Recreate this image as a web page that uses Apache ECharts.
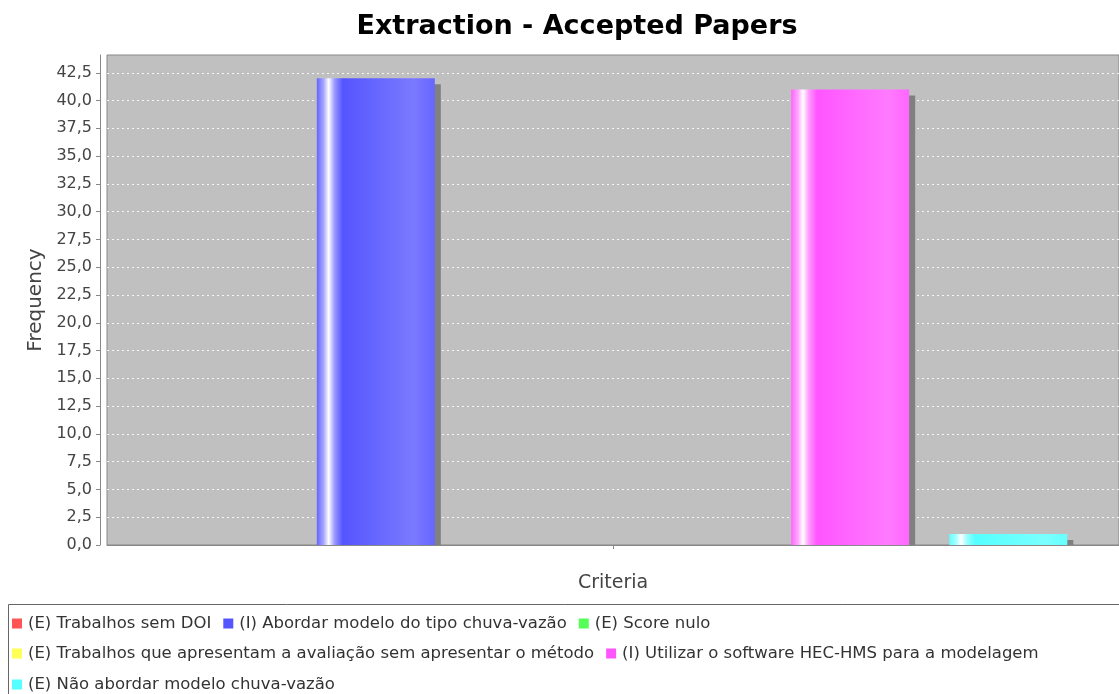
<!DOCTYPE html>
<html>
<head>
<meta charset="utf-8">
<script src="https://cdn.jsdelivr.net/npm/echarts@6/dist/echarts.min.js"></script>
<style>
  html, body { margin: 0; padding: 0; background: #ffffff; }
  #chart { width: 1119px; height: 694px; }
</style>
</head>
<body>
<div id="chart"></div>
<script>
// Chart data
const chartTitle = 'Extraction - Accepted Papers';
const categories = [''];
const seriesNames = [
  '(E) Trabalhos sem DOI',
  '(I) Abordar modelo do tipo chuva-vazão',
  '(E) Score nulo',
  '(E) Trabalhos que apresentam a avaliação sem apresentar o método',
  '(I) Utilizar o software HEC-HMS para a modelagem',
  '(E) Não abordar modelo chuva-vazão'
];
const seriesValues = [0, 42, 0, 0, 41, 1];
const seriesColors = ['#FF5555', '#5555FF', '#55FF55', '#FFFF55', '#FF55FF', '#55FFFF'];
const yTicks = [0, 2.5, 5, 7.5, 10, 12.5, 15, 17.5, 20, 22.5, 25, 27.5, 30, 32.5, 35, 37.5, 40, 42.5];
const yMax = 44.1;
const legendRows = [[0, 1, 2], [3, 4], [5]];

const FONT = 'DejaVu Sans';

// Mix a hex colour with white by t (0..1)
function tint(hex, t) {
  const n = parseInt(hex.slice(1), 16);
  const r = (n >> 16) & 255, g = (n >> 8) & 255, b = n & 255;
  const m = c => Math.round(c + (255 - c) * t);
  return 'rgb(' + m(r) + ',' + m(g) + ',' + m(b) + ')';
}

// Horizontal gloss gradient across each bar
function barGradient(hex) {
  return new echarts.graphic.LinearGradient(0, 0, 1, 0, [
    { offset: 0.00, color: tint(hex, 0.08) },
    { offset: 0.06, color: tint(hex, 0.5) },
    { offset: 0.10, color: '#ffffff' },
    { offset: 0.15, color: tint(hex, 0.4) },
    { offset: 0.22, color: hex },
    { offset: 0.82, color: tint(hex, 0.22) },
    { offset: 1.00, color: tint(hex, 0.1) }
  ]);
}

const series = seriesNames.map((name, i) => ({
  name: name,
  type: 'bar',
  data: [seriesValues[i]],
  barWidth: 118,
  barGap: '34%',
  itemStyle: {
    color: barGradient(seriesColors[i]),
    shadowColor: '#808080',
    shadowOffsetX: 6,
    shadowOffsetY: 6,
    shadowBlur: 0
  },
  emphasis: { disabled: true }
}));

const legendTops = [615, 645, 676];
const legends = legendRows.map((row, r) => ({
  left: 12,
  top: legendTops[r],
  orient: 'horizontal',
  padding: 0,
  itemWidth: 10,
  itemHeight: 10,
  itemGap: 12,
  icon: 'rect',
  selectedMode: false,
  textStyle: { fontFamily: FONT, fontSize: 16.5, color: '#333333', padding: [0, 0, 0, 1] },
  data: row.map(i => ({ name: seriesNames[i], itemStyle: { color: seriesColors[i], shadowBlur: 0, shadowOffsetX: 0, shadowOffsetY: 0 } }))
}));

const option = {
  animation: false,
  backgroundColor: '#ffffff',
  title: {
    text: chartTitle,
    left: 572,
    top: 8,
    textAlign: 'center',
    textStyle: { fontFamily: FONT, fontSize: 27, fontWeight: 'bold', color: '#000000' }
  },
  legend: legends,
  graphic: [
    {
      // keeps bar shadows from spilling under the plot's baseline
      type: 'rect',
      z: 5,
      shape: { x: 100, y: 546, width: 1030, height: 14 },
      style: { fill: '#ffffff' },
      silent: true
    },
    {
      type: 'rect',
      shape: { x: 8.5, y: 604.5, width: 1140, height: 120 },
      style: { fill: 'none', stroke: '#666666', lineWidth: 1 },
      silent: true
    }
  ],
  grid: {
    left: 107,
    top: 55,
    right: -2,
    bottom: 149,
    show: true,
    backgroundColor: '#C0C0C0',
    borderColor: '#888888',
    borderWidth: 1
  },
  xAxis: {
    type: 'category',
    data: categories,
    z: 10,
    offset: 4,
    name: 'Criteria',
    nameLocation: 'middle',
    nameGap: 25,
    nameTextStyle: { fontFamily: FONT, fontSize: 19, color: '#444444' },
    axisLine: { lineStyle: { color: '#888888', width: 1 } },
    axisTick: { show: true, alignWithLabel: true, length: 4, lineStyle: { color: '#888888' } },
    axisLabel: { show: false },
    splitLine: { show: false }
  },
  yAxis: {
    type: 'value',
    min: 0,
    max: yMax,
    interval: 2.5,
    offset: 7,
    name: 'Frequency',
    nameLocation: 'middle',
    nameGap: 50,
    nameRotate: 90,
    nameTextStyle: { fontFamily: FONT, fontSize: 20, color: '#444444' },
    axisLine: { show: true, lineStyle: { color: '#888888', width: 1 } },
    axisTick: { show: true, length: 4, customValues: yTicks, lineStyle: { color: '#888888' } },
    axisLabel: {
      customValues: yTicks,
      margin: 8,
      fontFamily: FONT,
      fontSize: 16,
      color: '#444444',
      formatter: v => v.toFixed(1).replace('.', ',')
    },
    splitLine: { show: true, lineStyle: { color: '#ffffff', type: [2, 3], width: 1, opacity: 0.85 } }
  },
  series: series
};

const chart = echarts.init(document.getElementById('chart'), null, { renderer: 'canvas' });
chart.setOption(option);
</script>
</body>
</html>
